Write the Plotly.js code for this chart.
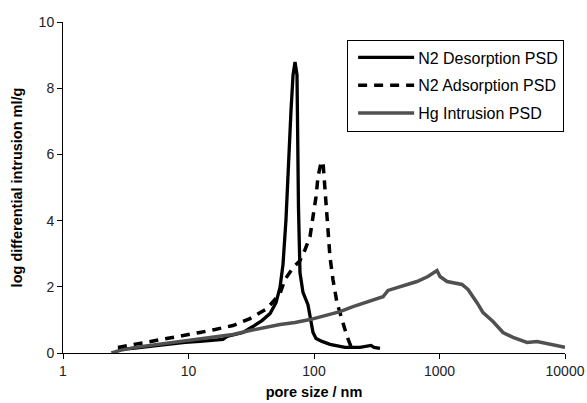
<!DOCTYPE html>
<html>
<head>
<meta charset="utf-8">
<script src="https://cdn.plot.ly/plotly-3.0.1.min.js"></script>
<style>html,body{margin:0;padding:0;background:#fff;}#chart{width:587px;height:403px;}</style>
</head>
<body>
<div id="chart"></div>
<script>
// N2 desorption PSD
const desX = [2.74, 3.61, 4.93, 6.74, 9.38, 12.35, 16.3, 18.8, 20.3, 27.2, 32.6, 38.5, 44.6, 49.8, 53.6, 56.6, 59.8, 62.1, 65.6, 68.1, 70.6, 73.2, 73.9, 75.2, 77.3, 81.7, 89.5, 94.6, 98.2, 103.8, 115.8, 134, 176.6, 232.6, 284.6, 300.8, 335.6];
const desY = [0.11, 0.14, 0.20, 0.26, 0.32, 0.35, 0.38, 0.41, 0.50, 0.62, 0.80, 0.98, 1.19, 1.52, 1.98, 2.67, 4.03, 5.54, 7.34, 8.40, 8.79, 8.40, 6.44, 4.42, 2.43, 1.83, 1.46, 1.01, 0.62, 0.44, 0.35, 0.26, 0.17, 0.17, 0.23, 0.17, 0.14];
// N2 adsorption PSD
const adsX = [2.74, 3.75, 4.93, 6.74, 9.04, 12.35, 16.3, 22.6, 30.9, 42.2, 53.6, 58.7, 68.1, 77.3, 84.8, 92.9, 98.2, 103.8, 107.6, 113.7, 117.9, 120.1, 124.7, 129.4, 134, 141.6, 152.4, 167.1, 183.3, 200.9];
const adsY = [0.17, 0.26, 0.35, 0.44, 0.53, 0.62, 0.71, 0.83, 1.04, 1.34, 1.79, 2.22, 2.58, 2.79, 3.12, 3.51, 4.12, 4.72, 5.32, 5.75, 5.78, 5.32, 4.72, 3.82, 2.91, 2.22, 1.52, 1.01, 0.50, 0.11];
// Hg intrusion PSD
const hgX = [2.43, 2.85, 3.75, 4.93, 6.74, 9.04, 12.35, 16.3, 22.6, 30.9, 40.7, 53.6, 70.6, 92.9, 122.3, 161, 204.6, 264.5, 354.6, 389, 484, 661.6, 809, 955, 1009, 1148, 1511, 1687, 1990, 2222, 2669, 3206, 3853, 4981, 5984, 7590, 10000];
const hgY = [0.0, 0.08, 0.17, 0.23, 0.29, 0.35, 0.41, 0.47, 0.56, 0.68, 0.77, 0.86, 0.92, 1.01, 1.13, 1.25, 1.40, 1.55, 1.70, 1.89, 2.01, 2.16, 2.31, 2.49, 2.31, 2.16, 2.07, 1.92, 1.52, 1.22, 0.95, 0.62, 0.47, 0.32, 0.35, 0.26, 0.17];

const seriesNames = ["N2 Desorption PSD", "N2 Adsorption PSD", "Hg Intrusion PSD"];
const xTickVals = [1, 10, 100, 1000, 10000];
const xTickText = ["1", "10", "100", "1000", "10000"];
const yTickVals = [0, 2, 4, 6, 8, 10];

const font = "Liberation Sans, Arial, sans-serif";

const traces = [
  {x: desX, y: desY, name: seriesNames[0], legendgroup: "a", type: "scatter", mode: "lines",
   line: {color: "#000000", width: 3.3}},
  {x: adsX, y: adsY, name: seriesNames[1], legendgroup: "b", type: "scatter", mode: "lines",
   line: {color: "#000000", width: 3.5, dash: "9px,7px"}},
  {x: hgX, y: hgY, name: seriesNames[2], legendgroup: "c", type: "scatter", mode: "lines",
   line: {color: "#505050", width: 3.5}}
];

const layout = {
  width: 587, height: 403,
  margin: {l: 63, r: 22, t: 22, b: 50},
  paper_bgcolor: "#ffffff", plot_bgcolor: "#ffffff",
  font: {family: font, color: "#000000", size: 14},
  showlegend: true,
  legend: {
    x: 0.566, y: 0.947, xanchor: "left", yanchor: "top",
    bordercolor: "#000000", borderwidth: 1, bgcolor: "#ffffff",
    font: {family: font, size: 16, color: "#000000"},
    tracegroupgap: 4, itemwidth: 60
  },
  xaxis: {
    type: "log", range: [0, 4],
    tickvals: xTickVals, ticktext: xTickText,
    showgrid: false, zeroline: false,
    showline: true, linecolor: "#000000", linewidth: 1,
    ticks: "outside", ticklen: 5, tickcolor: "#000000",
    tickfont: {family: font, size: 14, color: "#222222"},
    title: {text: "pore size / nm", font: {family: font, size: 14.5, color: "#000000", weight: "bold"}, standoff: 9}
  },
  yaxis: {
    range: [0, 10], tickvals: yTickVals,
    showgrid: false, zeroline: false,
    showline: true, linecolor: "#000000", linewidth: 1,
    ticks: "outside", ticklen: 5, tickcolor: "#000000",
    tickfont: {family: font, size: 14, color: "#222222"},
    title: {text: "log differential intrusion ml/g", font: {family: font, size: 14.5, color: "#000000", weight: "bold"}, standoff: 12}
  }
};

Plotly.newPlot("chart", traces, layout, {staticPlot: true, displayModeBar: false}).then(function () {
  // lengthen the legend line samples to match the reference
  document.querySelectorAll("#chart .legendlines path").forEach(function (p) {
    p.setAttribute("d", "M10,0h56");
  });
});
</script>
</body>
</html>
